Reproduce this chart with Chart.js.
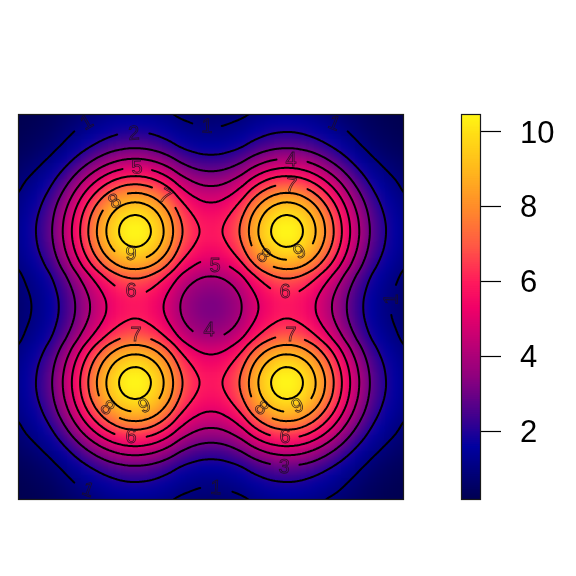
<!DOCTYPE html>
<html>
<head>
<meta charset="utf-8">
<title>Contour heatmap</title>
<script src="https://cdn.jsdelivr.net/npm/chart.js@4"></script>
<style>
  html, body { margin: 0; padding: 0; background: #fff; }
  #stage { position: relative; width: 576px; height: 576px; overflow: hidden; }
  #heat-wrap { position: absolute; left: 18px; top: 114px; width: 386px; height: 386px; overflow: hidden; }
  #heat { position: absolute; left: -20px; top: -20px; filter: blur(3px); }
  #contours, #colorbar { position: absolute; left: 0; top: 0; }
</style>
</head>
<body>
<div id="stage">
  <div id="heat-wrap"><canvas id="heat" width="426" height="426"></canvas></div>
  <canvas id="contours" width="576" height="576"></canvas>
  <canvas id="colorbar" width="576" height="576"></canvas>
</div>
<script>
// values, one quarter of the field: the plot is the same in all four quadrants
// row/column 0 is the centre of the plot, 24 is the edge
const quarterZ = [
  [3.23,3.27,3.43,3.69,4.08,4.59,5.04,5.41,5.67,5.80,5.79,5.65,5.38,5.00,4.54,4.02,3.48,2.94,2.43,1.97,1.58,1.29,1.06,0.89,0.73],
  [3.27,3.32,3.48,3.75,4.14,4.66,5.12,5.49,5.75,5.89,5.88,5.73,5.46,5.07,4.60,4.08,3.53,2.98,2.46,2.00,1.60,1.30,1.08,0.90,0.74],
  [3.43,3.48,3.65,3.93,4.33,4.88,5.36,5.76,6.03,6.17,6.16,6.01,5.72,5.32,4.82,4.28,3.70,3.12,2.58,2.10,1.68,1.37,1.13,0.95,0.77],
  [3.69,3.75,3.93,4.23,4.67,5.25,5.77,6.20,6.49,6.64,6.63,6.47,6.16,5.72,5.19,4.61,3.99,3.36,2.78,2.26,1.80,1.47,1.22,1.02,0.83],
  [4.08,4.14,4.33,4.67,5.15,5.80,6.37,6.84,7.16,7.33,7.32,7.14,6.80,6.32,5.73,5.08,4.40,3.71,3.06,2.49,1.99,1.62,1.34,1.12,0.92],
  [4.59,4.66,4.88,5.25,5.80,6.52,7.17,7.70,8.06,8.25,8.24,8.04,7.65,7.11,6.45,5.72,4.95,4.18,3.45,2.80,2.24,1.83,1.51,1.27,1.03],
  [5.04,5.12,5.36,5.77,6.37,7.17,7.88,8.46,8.86,9.07,9.05,8.83,8.40,7.81,7.09,6.29,5.44,4.59,3.79,3.08,2.46,2.01,1.66,1.39,1.14],
  [5.41,5.49,5.76,6.20,6.84,7.70,8.46,9.08,9.51,9.74,9.72,9.48,9.03,8.39,7.61,6.75,5.84,4.93,4.07,3.31,2.64,2.16,1.79,1.49,1.22],
  [5.67,5.75,6.03,6.49,7.16,8.06,8.86,9.51,9.96,10.20,10.18,9.93,9.45,8.79,7.97,7.07,6.12,5.16,4.26,3.46,2.77,2.26,1.87,1.56,1.28],
  [5.80,5.89,6.17,6.64,7.33,8.25,9.07,9.74,10.20,10.44,10.42,10.17,9.67,8.99,8.16,7.24,6.26,5.28,4.36,3.55,2.83,2.31,1.91,1.60,1.31],
  [5.79,5.88,6.16,6.63,7.32,8.24,9.05,9.72,10.18,10.42,10.40,10.15,9.66,8.98,8.14,7.22,6.25,5.27,4.35,3.54,2.83,2.31,1.91,1.60,1.30],
  [5.65,5.73,6.01,6.47,7.14,8.04,8.83,9.48,9.93,10.17,10.15,9.90,9.42,8.76,7.95,7.05,6.10,5.14,4.25,3.45,2.76,2.25,1.86,1.56,1.27],
  [5.38,5.46,5.72,6.16,6.80,7.65,8.40,9.03,9.45,9.67,9.66,9.42,8.97,8.34,7.56,6.71,5.81,4.90,4.04,3.29,2.63,2.14,1.77,1.48,1.21],
  [5.00,5.07,5.32,5.72,6.32,7.11,7.81,8.39,8.79,8.99,8.98,8.76,8.34,7.75,7.03,6.24,5.40,4.55,3.76,3.06,2.44,1.99,1.65,1.38,1.13],
  [4.54,4.60,4.82,5.19,5.73,6.45,7.09,7.61,7.97,8.16,8.14,7.95,7.56,7.03,6.38,5.66,4.90,4.13,3.41,2.77,2.22,1.81,1.50,1.25,1.02],
  [4.02,4.08,4.28,4.61,5.08,5.72,6.29,6.75,7.07,7.24,7.22,7.05,6.71,6.24,5.66,5.02,4.34,3.66,3.02,2.46,1.97,1.60,1.33,1.11,0.91],
  [3.48,3.53,3.70,3.99,4.40,4.95,5.44,5.84,6.12,6.26,6.25,6.10,5.81,5.40,4.90,4.34,3.76,3.17,2.62,2.13,1.70,1.39,1.15,0.96,0.78],
  [2.94,2.98,3.12,3.36,3.71,4.18,4.59,4.93,5.16,5.28,5.27,5.14,4.90,4.55,4.13,3.66,3.17,2.67,2.21,1.79,1.43,1.17,0.97,0.81,0.66],
  [2.43,2.46,2.58,2.78,3.06,3.45,3.79,4.07,4.26,4.36,4.35,4.25,4.04,3.76,3.41,3.02,2.62,2.21,1.82,1.48,1.18,0.97,0.80,0.67,0.55],
  [1.97,2.00,2.10,2.26,2.49,2.80,3.08,3.31,3.46,3.55,3.54,3.45,3.29,3.06,2.77,2.46,2.13,1.79,1.48,1.20,0.96,0.79,0.65,0.54,0.44],
  [1.58,1.60,1.68,1.80,1.99,2.24,2.46,2.64,2.77,2.83,2.83,2.76,2.63,2.44,2.22,1.97,1.70,1.43,1.18,0.96,0.77,0.63,0.52,0.43,0.36],
  [1.29,1.30,1.37,1.47,1.62,1.83,2.01,2.16,2.26,2.31,2.31,2.25,2.14,1.99,1.81,1.60,1.39,1.17,0.97,0.79,0.63,0.51,0.42,0.35,0.29],
  [1.06,1.08,1.13,1.22,1.34,1.51,1.66,1.79,1.87,1.91,1.91,1.86,1.77,1.65,1.50,1.33,1.15,0.97,0.80,0.65,0.52,0.42,0.35,0.29,0.24],
  [0.89,0.90,0.95,1.02,1.12,1.27,1.39,1.49,1.56,1.60,1.60,1.56,1.48,1.38,1.25,1.11,0.96,0.81,0.67,0.54,0.43,0.35,0.29,0.25,0.20],
  [0.73,0.74,0.77,0.83,0.92,1.03,1.14,1.22,1.28,1.31,1.30,1.27,1.21,1.13,1.02,0.91,0.78,0.66,0.55,0.44,0.36,0.29,0.24,0.20,0.16]
];

const contourLevels = [1, 2, 3, 4, 5, 6, 7, 8, 9, 10];

// contour labels in data units
const labelLevels = [1, 1, 1, 1, 1, 1, 2, 3, 4, 4, 5, 5, 6, 6, 6, 6, 7, 7, 7, 7, 8, 8, 8, 8, 9, 9, 9, 9];
const labelX = [-15.42, -0.5, 15.3, -15.3, 0.62, 22.51, -9.58, 9.08, 9.95, -0.25, -9.2, 0.5, -9.95, 9.2, -9.95, 9.2, -5.72, 9.95, -9.33, 9.95, -11.94, 6.47, -12.94, 6.22, -9.95, 11.07, -8.21, 10.82];
const labelY = [22.88, 22.38, 22.76, -22.82, -22.57, 0.97, 21.51, -19.96, 18.28, -2.9, 17.28, 5.07, 1.96, 1.84, -16.22, -16.22, 13.67, 15.04, -3.52, -3.52, 13.05, 6.32, -12.61, -12.61, 6.57, 6.82, -12.36, -12.36];
const labelAngles = [-30, 3, 22, 20, 4, -88, -4, 3, 0, 0, -3, 0, 0, 0, 0, 0, 28, 8, 0, 0, -30, 42, 42, 42, 0, -30, -25, -25];

const colorbarTicks = [2, 4, 6, 8, 10];
const zMin = 0.18;
const zMax = 10.48;

const paletteValues = [0.18, 1.6, 2.4, 3.5, 4.5, 5.3, 6.0, 7.0, 8.0, 9.0, 10.0, 10.48];
const paletteColors = [
  [0, 0, 80], [0, 0, 160], [64, 0, 142], [144, 0, 126], [197, 0, 115], [240, 0, 104],
  [255, 26, 92], [255, 90, 68], [255, 140, 42], [255, 184, 28], [255, 224, 21], [255, 247, 20]
];

function colorAt(v) {
  const z = Math.min(zMax, Math.max(zMin, v));
  let k = 0;
  while (k < paletteValues.length - 2 && z > paletteValues[k + 1]) k++;
  const t = (z - paletteValues[k]) / (paletteValues[k + 1] - paletteValues[k]);
  const c = paletteColors[k].map((p, n) => Math.round(p + (paletteColors[k + 1][n] - p) * t));
  return `rgb(${c[0]},${c[1]},${c[2]})`;
}

// mirror the quarter into the full grid, coords run -24..24
const coords = [];
for (let i = -24; i <= 24; i++) coords.push(i);
const zGrid = coords.map(r => coords.map(c => quarterZ[Math.abs(r)][Math.abs(c)]));

// --- Contour tracing ---
// the tracer walks a 3x finer copy of the grid (catmull-rom), the lines come out round that way
// only the contour paths use this, the heat cells stay on the read values
const traceStep = 3;

function cubic(p0, p1, p2, p3, t) {
  return p1 + 0.5 * t * (p2 - p0 + t * (2 * p0 - 5 * p1 + 4 * p2 - p3 + t * (3 * (p1 - p2) + p3 - p0)));
}

function sampleRow(row, pos) {
  const n = row.length - 1;
  const i = Math.min(n - 1, Math.floor(pos));
  const at = k => row[Math.max(0, Math.min(n, k))];
  return cubic(at(i - 1), at(i), at(i + 1), at(i + 2), pos - i);
}

const fineCoords = [];
const finePos = [];
for (let i = 0; i <= (coords.length - 1) * traceStep; i++) {
  finePos.push(i / traceStep);
  fineCoords.push(coords[0] + i / traceStep);
}
const fineRows = zGrid.map(row => finePos.map(p => sampleRow(row, p)));
const fineZ = finePos.map(p => finePos.map((_, c) => sampleRow(fineRows.map(row => row[c]), p)));

function traceContours(level) {
  const segs = [];
  const pointAt = {};
  const n = fineCoords.length;

  function edge(kind, r, c) {
    const key = `${kind}${r}_${c}`;
    if (!pointAt[key]) {
      const a = fineZ[r][c];
      const b = kind === 'h' ? fineZ[r][c + 1] : fineZ[r + 1][c];
      const t = (level - a) / (b - a);
      pointAt[key] = kind === 'h'
        ? { x: fineCoords[c] + t / traceStep, y: fineCoords[r] }
        : { x: fineCoords[c], y: fineCoords[r] + t / traceStep };
    }
    return key;
  }

  for (let r = 0; r < n - 1; r++) {
    for (let c = 0; c < n - 1; c++) {
      const idx = (fineZ[r][c] >= level ? 1 : 0) | (fineZ[r][c + 1] >= level ? 2 : 0)
        | (fineZ[r + 1][c + 1] >= level ? 4 : 0) | (fineZ[r + 1][c] >= level ? 8 : 0);
      if (idx === 0 || idx === 15) continue;
      const top = () => edge('h', r, c);
      const bottom = () => edge('h', r + 1, c);
      const left = () => edge('v', r, c);
      const right = () => edge('v', r, c + 1);
      const table = {
        1: [[left, top]], 2: [[top, right]], 3: [[left, right]], 4: [[right, bottom]],
        5: [[left, top], [right, bottom]], 6: [[top, bottom]], 7: [[left, bottom]], 8: [[left, bottom]],
        9: [[top, bottom]], 10: [[top, right], [left, bottom]], 11: [[right, bottom]], 12: [[left, right]],
        13: [[top, right]], 14: [[left, top]]
      };
      table[idx].forEach(s => segs.push([s[0](), s[1]()]));
    }
  }

  // join the segments into chains
  const links = {};
  segs.forEach(([a, b]) => {
    (links[a] = links[a] || []).push(b);
    (links[b] = links[b] || []).push(a);
  });
  const seen = new Set();
  const chains = [];

  function walk(start) {
    const keys = [start];
    seen.add(start);
    let cur = start;
    for (;;) {
      const next = links[cur].find(k => !seen.has(k));
      if (!next) break;
      seen.add(next);
      keys.push(next);
      cur = next;
    }
    const closed = links[cur].includes(start) && keys.length > 2;
    chains.push({ closed, pts: keys.map(k => pointAt[k]) });
  }

  Object.keys(links).filter(k => links[k].length === 1).forEach(k => { if (!seen.has(k)) walk(k); });
  Object.keys(links).forEach(k => { if (!seen.has(k)) walk(k); });
  return chains;
}

// leave a gap in the line where a label sits
const labelGap = 1.8;

function cutAtLabels(chain, level) {
  const near = p => labelLevels.some((l, i) => l === level
    && Math.hypot(p.x - labelX[i], p.y - labelY[i]) < labelGap);
  let pts = chain.pts;
  if (chain.closed) {
    const firstCut = pts.findIndex(near);
    if (firstCut < 0) return [pts.concat([pts[0]])];
    pts = pts.slice(firstCut).concat(pts.slice(0, firstCut));
  }
  const pieces = [];
  let cur = [];
  pts.forEach(p => {
    if (near(p)) {
      if (cur.length > 1) pieces.push(cur);
      cur = [];
    } else {
      cur.push(p);
    }
  });
  if (cur.length > 1) pieces.push(cur);
  return pieces;
}

const contourDatasets = [];
contourLevels.forEach(level => {
  traceContours(level).forEach(chain => {
    cutAtLabels(chain, level).forEach(piece => {
      contourDatasets.push({
        data: piece,
        showLine: true,
        borderColor: '#000',
        borderWidth: 2,
        borderCapStyle: 'round',
        borderJoinStyle: 'round',
        tension: 0.001, // keeps Chart.js off its x-sorted fast path, these lines double back
        pointRadius: 0
      });
    });
  });
});

// --- Heat cells ---
const heatPoints = [];
const heatColors = [];
const edgePoints = [];
const edgeColors = [];
coords.forEach((y, r) => coords.forEach((x, c) => {
  heatPoints.push({ x, y });
  heatColors.push(colorAt(zGrid[r][c]));
  if (Math.abs(x) === 24 || Math.abs(y) === 24) {
    edgePoints.push({ x, y });
    edgeColors.push(colorAt(zGrid[r][c]));
  }
}));

const heatHalfRange = 213 / (193 / 24);

// cells are 8px blocks, the css blur on the canvas smooths them
// the edge cells are repeated bigger underneath so the blur has colour to reach past the frame
new Chart(document.getElementById('heat'), {
  type: 'scatter',
  data: {
    datasets: [
      { data: heatPoints, pointStyle: 'rect', pointRadius: 6, pointBorderWidth: 0, pointBackgroundColor: heatColors },
      { data: edgePoints, pointStyle: 'rect', pointRadius: 30, pointBorderWidth: 0, pointBackgroundColor: edgeColors }
    ]
  },
  options: {
    responsive: false,
    animation: false,
    devicePixelRatio: 1,
    events: [],
    layout: { padding: 0, autoPadding: false },
    plugins: { legend: { display: false }, tooltip: { enabled: false } },
    scales: {
      x: { type: 'linear', min: -heatHalfRange, max: heatHalfRange, display: false },
      y: { type: 'linear', min: -heatHalfRange, max: heatHalfRange, display: false }
    }
  }
});

function frame(chart, ctx) {
  const a = chart.chartArea;
  ctx.save();
  ctx.strokeStyle = '#1a1a1a';
  ctx.lineWidth = 1.2;
  ctx.strokeRect(a.left + 0.5, a.top + 0.5, a.right - a.left - 1, a.bottom - a.top - 1);
  ctx.restore();
}

const contourLabelPlugin = {
  id: 'contourLabels',
  afterDatasetsDraw(chart) {
    const { ctx, scales } = chart;
    ctx.save();
    ctx.font = '20px "Liberation Sans", Arial, sans-serif';
    ctx.textAlign = 'center';
    ctx.textBaseline = 'middle';
    ctx.strokeStyle = 'rgba(30, 15, 30, 0.85)';
    ctx.lineWidth = 0.8;
    labelLevels.forEach((level, i) => {
      ctx.save();
      ctx.translate(scales.x.getPixelForValue(labelX[i]), scales.y.getPixelForValue(labelY[i]));
      ctx.rotate(labelAngles[i] * Math.PI / 180);
      ctx.strokeText(String(level), 0, 0);
      ctx.restore();
    });
    ctx.restore();
    frame(chart, ctx);
  }
};

new Chart(document.getElementById('contours'), {
  type: 'scatter',
  data: { datasets: contourDatasets },
  plugins: [contourLabelPlugin],
  options: {
    responsive: false,
    animation: false,
    devicePixelRatio: 1,
    events: [],
    layout: { padding: { left: 18, right: 172, top: 114, bottom: 76 }, autoPadding: false },
    plugins: { legend: { display: false }, tooltip: { enabled: false } },
    scales: {
      x: { type: 'linear', min: -24, max: 24, display: false },
      y: { type: 'linear', min: -24, max: 24, display: false }
    }
  }
});

// --- Colour bar ---
const bandDatasets = [];
for (let lo = zMin; lo < zMax; lo += 0.05) {
  bandDatasets.push({
    data: [[lo, lo + 0.1]],
    backgroundColor: colorAt(lo + 0.025),
    borderWidth: 0,
    barPercentage: 1,
    categoryPercentage: 1,
    grouped: false
  });
}

new Chart(document.getElementById('colorbar'), {
  type: 'bar',
  data: { labels: [''], datasets: bandDatasets.reverse() },
  plugins: [{ id: 'barFrame', afterDatasetsDraw(chart) { frame(chart, chart.ctx); } }],
  options: {
    responsive: false,
    animation: false,
    devicePixelRatio: 1,
    events: [],
    layout: { padding: { left: 461, right: 0, top: 114, bottom: 76 }, autoPadding: false },
    plugins: { legend: { display: false }, tooltip: { enabled: false } },
    scales: {
      x: { display: false },
      y: {
        type: 'linear',
        position: 'right',
        min: zMin,
        max: zMax,
        afterBuildTicks(scale) { scale.ticks = colorbarTicks.map(value => ({ value })); },
        afterFit(scale) { scale.width = 95; },
        border: { display: false },
        grid: { drawOnChartArea: false, drawTicks: true, tickLength: 20, tickColor: '#000', tickWidth: 1.2 },
        ticks: {
          color: '#000',
          padding: 19,
          labelOffset: 2,
          font: { family: '"Liberation Sans", Arial, sans-serif', size: 31 }
        }
      }
    }
  }
});
</script>
</body>
</html>
